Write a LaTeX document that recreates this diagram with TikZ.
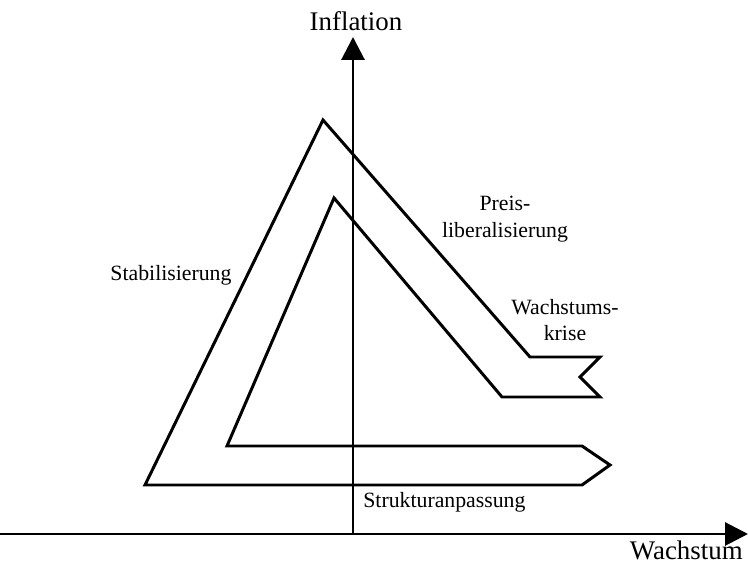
\documentclass[tikz,border=0pt]{standalone}
\usepackage{fontspec}
\setmainfont{Liberation Serif}
\usetikzlibrary{arrows.meta}

\begin{document}
\begin{tikzpicture}[x=0.02cm,y=-0.02cm,
		label/.style={font=\fontsize{12.4}{15}\selectfont,align=center,inner sep=0pt},
		axislabel/.style={font=\fontsize{15.3}{18}\selectfont,inner sep=0pt},
		axis/.style={line width=1.7pt,-{Triangle[length=0.46cm,width=0.46cm]}},
		band/.style={line width=1.7pt,line join=miter}]
			\useasboundingbox (0,0) rectangle (748,563);
			% axes
			\coordinate (xstart) at (0,534);
			\coordinate (xend) at (748,534);
			\coordinate (ystart) at (353,534);
			\coordinate (yend) at (353,37);
			\draw [axis] (xstart) -- (xend);
			\draw [axis] (ystart) -- (yend);
			\node[axislabel] (inflation) at (356,21) {Inflation};
			\node[axislabel,anchor=east] (wachstum) at (743,550) {Wachstum};
			% the band
			\draw [band] (145,485) -- (323,120) -- (530,357) -- (600,357) -- (580,377)
				-- (600,397) -- (502,397) -- (334,198) -- (227,446) -- (582,446)
				-- (610,465) -- (582,485) -- cycle;
			% phases
			\node[label] (stabil) at (171,275) {Stabilisierung};
			\node[label] (preis) at (505,219) {Preis-\\liberalisierung};
			\node[label] (krise) at (565,320) {Wachstums-\\krise};
			\node[label,anchor=west] (struktur) at (363,502) {Strukturanpassung};
\end{tikzpicture}
\end{document}
